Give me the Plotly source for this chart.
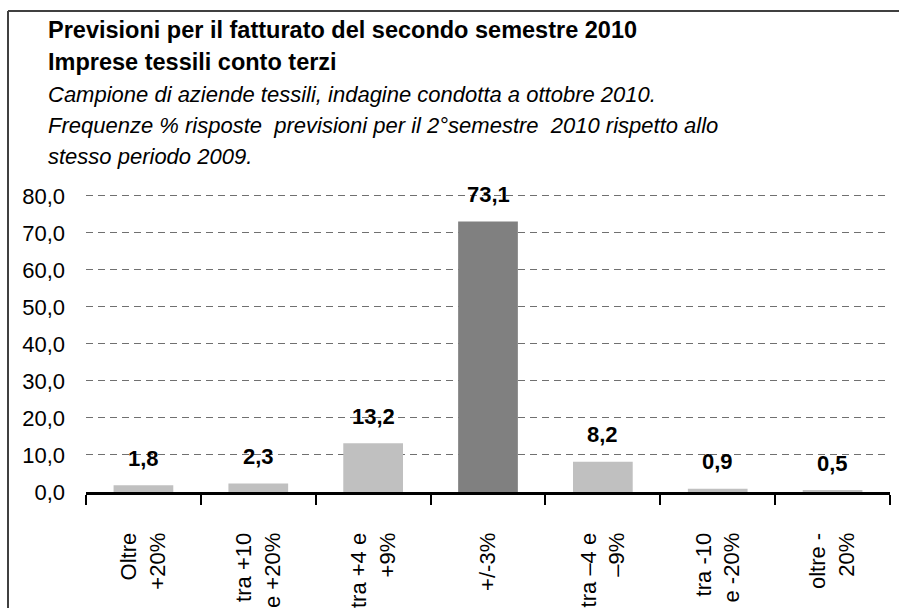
import plotly.graph_objects as go

# Data
categories = [
    "Oltre<br>+20%",
    "tra +10<br>e +20%",
    "tra +4 e<br>+9%",
    "+/-3%",
    "tra –4 e<br>–9%",
    "tra -10<br>e -20%",
    "oltre -<br>20%",
]
values = [1.8, 2.3, 13.2, 73.1, 8.2, 0.9, 0.5]

title_lines = [
    "<b>Previsioni per il fatturato del secondo semestre 2010</b>",
    "<b>Imprese tessili conto terzi</b>",
    "<i>Campione di aziende tessili, indagine condotta a ottobre 2010.</i>",
    "<i>Frequenze % risposte  previsioni per il 2°semestre  2010 rispetto allo</i>",
    "<i>stesso periodo 2009.</i>",
]

FONT = "Liberation Sans, Arial, sans-serif"
W, H = 899, 608
Y_TOP = 80.5
L, R, B = 86, 9, 116
PX_PER_UNIT = 296 / 80
T = round(H - B - Y_TOP * PX_PER_UNIT)
PW, PH = W - L - R, H - T - B


def px_x(x):
    return (x - L) / PW


def px_y(y):
    return (H - B - y) / PH


bar_colors = ["#808080" if c == "+/-3%" else "#C0C0C0" for c in categories]

fig = go.Figure(
    go.Bar(
        x=categories,
        y=values,
        marker=dict(color=bar_colors, line=dict(width=0)),
        hoverinfo="skip",
    )
)

# Value labels above the bars
for c, v in zip(categories, values):
    fig.add_annotation(
        x=c,
        y=v,
        text=f"<b>{v:.1f}</b>".replace(".", ","),
        showarrow=False,
        yshift=27,
        yanchor="middle",
        font=dict(family=FONT, size=22, color="#000000"),
    )

# Header text
line_y = [30, 62, 94, 125, 156]
for i, (txt, yy) in enumerate(zip(title_lines, line_y)):
    fig.add_annotation(
        xref="paper",
        yref="paper",
        x=px_x(46),
        y=px_y(yy),
        xanchor="left",
        yanchor="middle",
        text=txt,
        showarrow=False,
        font=dict(family=FONT, size=23.5 if i < 2 else 22, color="#000000"),
    )

# Outer frame (only top and left edges are visible in the crop)
frame = dict(color="#404040", width=2)
fig.add_shape(type="line", xref="paper", yref="paper",
              x0=px_x(8), x1=px_x(W + 5), y0=px_y(11), y1=px_y(11), line=frame)
fig.add_shape(type="line", xref="paper", yref="paper",
              x0=px_x(8), x1=px_x(8), y0=px_y(11), y1=px_y(H + 5), line=frame)

fig.update_layout(
    width=W,
    height=H,
    margin=dict(l=L, r=R, t=T, b=B, autoexpand=False),
    paper_bgcolor="white",
    plot_bgcolor="white",
    separators=",.",
    bargap=0.48,
    showlegend=False,
    font=dict(family=FONT, size=22, color="#000000"),
    xaxis=dict(
        type="category",
        showline=True,
        linecolor="#000000",
        linewidth=3,
        ticks="outside",
        tickson="boundaries",
        ticklen=10,
        tickwidth=2,
        tickcolor="#000000",
        tickangle=-90,
        tickfont=dict(family=FONT, size=22, color="#000000"),
        ticklabelstandoff=29,
        showgrid=False,
        automargin=False,
    ),
    yaxis=dict(
        range=[0, Y_TOP],
        tickvals=[0, 10, 20, 30, 40, 50, 60, 70, 80],
        tickformat=".1f",
        showline=False,
        zeroline=False,
        showgrid=True,
        gridcolor="#707070",
        gridwidth=1,
        griddash="7px,5px",
        ticks="",
        ticklabelstandoff=20,
        tickfont=dict(family=FONT, size=22, color="#000000"),
        automargin=False,
    ),
)

fig.write_html(
    "out.html",
    config={"displayModeBar": False},
    post_script="document.body.style.margin='0';",
)
